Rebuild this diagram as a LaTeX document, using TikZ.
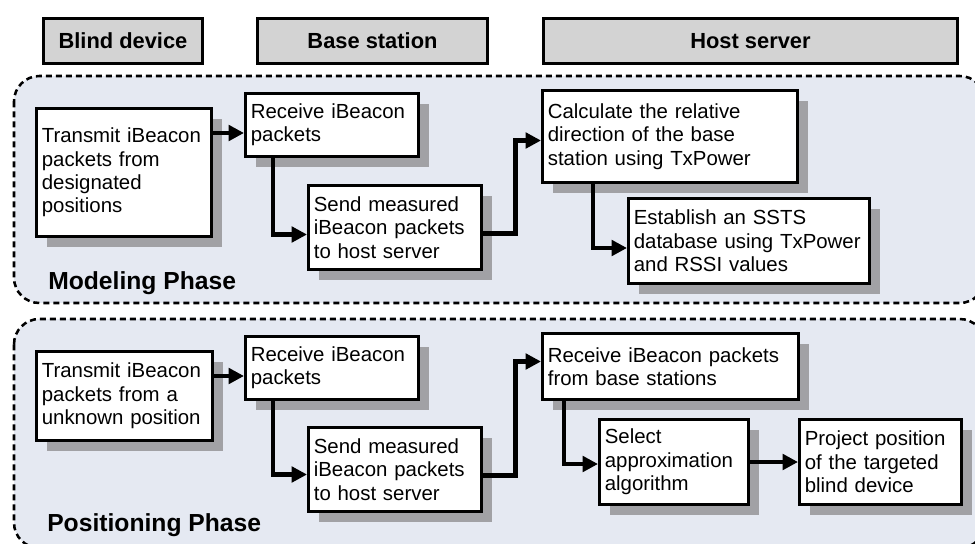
\documentclass[tikz,border=0pt]{standalone}
\usepackage{fontspec}
\setmainfont{Liberation Sans}
\usetikzlibrary{arrows.meta, calc, shadows}

\definecolor{phasebg}{RGB}{229,233,242}
\definecolor{shadowgray}{RGB}{161,161,165}
\definecolor{headgray}{RGB}{211,211,211}

\tikzset{
    head/.style={draw, line width=2.25pt, fill=headgray, anchor=north west, inner sep=0pt,
        minimum height=33.75pt, font=\bfseries\fontsize{16.4}{20}\selectfont},
    task/.style={draw, line width=2.25pt, fill=white, anchor=north west, align=left,
        inner xsep=4pt, inner ysep=2pt, font=\fontsize{15.3}{17.5}\selectfont,
        drop shadow={shadow xshift=8pt, shadow yshift=-8pt, fill=shadowgray, opacity=1}},
    phase/.style={anchor=base west, inner sep=0pt, font=\bfseries\fontsize{18.5}{22}\selectfont},
    region/.style={draw, fill=phasebg, line width=1.9pt, dash pattern=on 4.5pt off 3pt, rounded corners=19pt},
    flow/.style={line width=3.6pt, -{Triangle[length=11.5pt, width=11.5pt]}}
}

\begin{document}
\begin{tikzpicture}[x=0.75pt, y=-0.75pt]
    \useasboundingbox (0,0) rectangle (975,543);

    % Phase areas
    \draw[region] (14,76) rectangle (985,303);
    \draw[region] (14,319) rectangle (985,548);

    % Column headers
    \node[head, minimum width=119.25pt] (hblind) at (42,17) {Blind device};
    \node[head, minimum width=172.5pt] (hbase) at (256,17) {Base station};
    \node[head, minimum width=310.5pt] (hhost) at (542,17) {Host server};

    % Modeling phase
    \node[task, text width=123pt, minimum height=96pt] (m1) at (35,107)
        {Transmit iBeacon\\packets from\\designated\\positions};
    \node[task, text width=121.5pt, minimum height=47.25pt] (m2) at (244,92)
        {Receive iBeacon\\packets};
    \node[task, text width=121.5pt, minimum height=63pt] (m3) at (307,184)
        {Send measured\\iBeacon packets\\to host server};
    \node[task, text width=183pt, minimum height=69pt] (m4) at (541,89)
        {Calculate the relative\\direction of the base\\station using TxPower};
    \node[task, text width=172.5pt, minimum height=63.75pt] (m5) at (627,197)
        {Establish an SSTS\\database using TxPower\\and RSSI values};
    \node[phase] (mlabel) at (48,289) {Modeling Phase};

    \draw[flow] ($(m1.east |- m2.west)+(0,8)$) -- ($(m2.west)+(0,8)$);
    \draw[flow] ($(m2.south west)+(29,0)$) |- ($(m3.west)+(0,7)$);
    \draw[flow] ($(m3.east)+(0,6)$) -- ++(33,0) |- ($(m4.west)+(0,4)$);
    \draw[flow] ($(m4.south west)+(52,0)$) |- ($(m5.west)+(0,7)$);

    % Positioning phase
    \node[task, text width=124pt, minimum height=66.75pt] (p1) at (35,350)
        {Transmit iBeacon\\packets from a\\unknown position};
    \node[task, text width=121.5pt, minimum height=47.25pt] (p2) at (244,335)
        {Receive iBeacon\\packets};
    \node[task, text width=121.5pt, minimum height=63pt] (p3) at (307,426)
        {Send measured\\iBeacon packets\\to host server};
    \node[task, text width=184pt, minimum height=49.5pt] (p4) at (541,332)
        {Receive iBeacon packets\\from base stations};
    \node[task, text width=103.5pt, minimum height=63.75pt] (p5) at (598,418)
        {Select\\approximation\\algorithm};
    \node[task, text width=113.5pt, minimum height=63.75pt] (p6) at (798,418)
        {Project position\\of the targeted\\blind device};
    \node[phase] (plabel) at (47,531) {Positioning Phase};

    \draw[flow] ($(p1.east |- p2.west)+(0,8)$) -- ($(p2.west)+(0,8)$);
    \draw[flow] ($(p2.south west)+(29,0)$) |- ($(p3.west)+(0,5)$);
    \draw[flow] ($(p3.east)+(0,6)$) -- ++(33,0) |- ($(p4.west)+(0,-5)$);
    \draw[flow] ($(p4.south west)+(23,0)$) |- ($(p5.west)+(0,2)$);
    \draw[flow] (p5.east) -- (p6.west);
\end{tikzpicture}
\end{document}
